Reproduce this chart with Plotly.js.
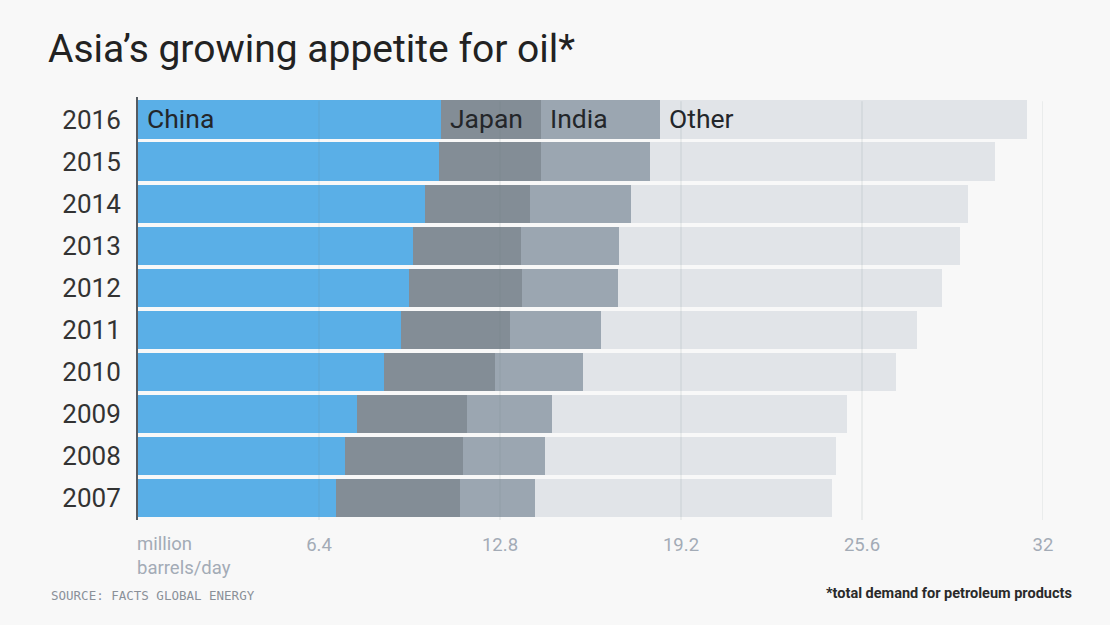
<!DOCTYPE html>
<html>
<head>
<meta charset="utf-8">
<script src="https://cdn.plot.ly/plotly-3.0.1.min.js"></script>
<style>html,body{margin:0;padding:0;background:#f8f8f8;}#chart{width:1110px;height:625px;}</style>
</head>
<body>
<div id="chart"></div>
<script>
// Data (million barrels/day), bottom-to-top order
const years = ["2007","2008","2009","2010","2011","2012","2013","2014","2015","2016"];
const china = [7.00, 7.32, 7.74, 8.70, 9.30, 9.58, 9.72, 10.15, 10.64, 10.71];
const japan = [4.39, 4.17, 3.89, 3.92, 3.85, 4.00, 3.82, 3.71, 3.61, 3.54];
const india = [2.65, 2.90, 3.01, 3.12, 3.22, 3.39, 3.47, 3.57, 3.85, 4.21];
const other = [10.50, 10.29, 10.43, 11.06, 11.18, 11.46, 12.06, 11.92, 12.20, 12.97];
const seriesNames = ["China", "Japan", "India", "Other"];
const tickVals = [6.4, 12.8, 19.2, 25.6, 32];
const tickText = ["6.4", "12.8", "19.2", "25.6", "32"];

const colors = ["#5aafe7", "#838d96", "#9ba6b1", "#e1e4e8"];
const series = [china, japan, india, other];

const traces = series.map((vals, i) => ({
  type: "bar",
  orientation: "h",
  y: years,
  x: vals,
  name: seriesNames[i],
  marker: {color: colors[i], line: {width: 0}},
  hoverinfo: "none"
}));

// Segment labels in the top (last) bar
const last = years.length - 1;
let cum = 0;
const labelAnns = series.map((vals, i) => {
  const start = cum;
  cum += vals[last];
  return {
    x: start, y: last, xref: "x", yref: "y",
    text: seriesNames[i], showarrow: false,
    xanchor: "left", yanchor: "middle", xshift: 7, yshift: 1,
    font: {family: "Roboto, Arial, sans-serif", size: 26.5, color: "#23262a"}
  };
});

const gridShapes = tickVals.map(v => ({
  type: "line", layer: "above", xref: "x", yref: "paper",
  x0: v, x1: v, y0: 0, y1: 0.99,
  line: {color: "rgba(110,120,135,0.13)", width: 1.5}
}));

const layout = {
  width: 1110, height: 625,
  paper_bgcolor: "#f8f8f8", plot_bgcolor: "#f8f8f8",
  margin: {l: 138, r: 67, t: 97, b: 105},
  barmode: "stack",
  bargap: 0.09,
  showlegend: false,
  title: {
    text: "Asia’s growing appetite for oil*",
    xref: "container", yref: "container",
    x: 48/1110, xanchor: "left", y: 1 - 48/625, yanchor: "middle",
    font: {family: "Roboto, Arial, sans-serif", size: 39, color: "#222"}
  },
  xaxis: {
    range: [0, 32], fixedrange: true,
    tickvals: tickVals, ticktext: tickText,
    showgrid: false, zeroline: false, showline: false,
    ticks: "", ticklabelstandoff: 11,
    tickfont: {family: "Roboto, Arial, sans-serif", size: 18.5, color: "#a3abb6"}
  },
  yaxis: {
    type: "category", categoryorder: "array", categoryarray: years,
    range: [-0.523, 9.536], fixedrange: true,
    showgrid: false, zeroline: false,
    showline: true, linecolor: "#555b62", linewidth: 2,
    ticks: "", ticklabelstandoff: 10,
    tickfont: {family: "Roboto, Arial, sans-serif", size: 26, color: "#333"}
  },
  shapes: gridShapes,
  annotations: labelAnns.concat([
    {
      xref: "paper", yref: "paper", x: 0, y: 0, xanchor: "left", yanchor: "top",
      yshift: -11, xshift: -3, align: "left", showarrow: false,
      text: "million<br>barrels/day",
      font: {family: "Roboto, Arial, sans-serif", size: 18.5, color: "#a3abb6"}
    },
    {
      xref: "paper", yref: "paper", x: -89/905, y: -75/423, xanchor: "left", yanchor: "middle",
      showarrow: false, text: "SOURCE: FACTS GLOBAL ENERGY",
      font: {family: "DejaVu Sans Mono, monospace", size: 12.5, color: "#8a9098"}
    },
    {
      xref: "paper", yref: "paper", x: 1 + 31/905, y: -73/423, xanchor: "right", yanchor: "middle",
      showarrow: false, text: "<b>*total demand for petroleum products</b>",
      font: {family: "Roboto, Arial, sans-serif", size: 14.5, color: "#2a2a2a"}
    }
  ])
};

Plotly.newPlot("chart", traces, layout, {staticPlot: true, displayModeBar: false});
</script>
</body>
</html>
